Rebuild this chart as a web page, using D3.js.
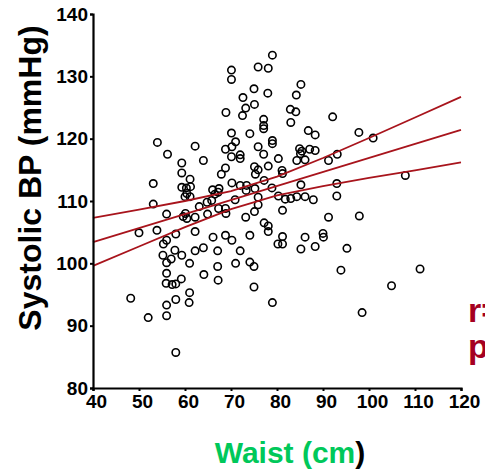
<!DOCTYPE html>
<html>
<head>
<meta charset="utf-8">
<script src="https://cdn.jsdelivr.net/npm/d3@7"></script>
<style>
  html, body { margin: 0; padding: 0; background: #fff; }
  svg text { font-family: "Liberation Sans", Arial, sans-serif; font-weight: bold; }
</style>
</head>
<body>
<svg id="chart" width="485" height="470"></svg>
<script>
// Waist circumference (cm) and systolic blood pressure (mmHg) per subject
const waist = [
  79.0, 75.9, 78.1, 70.1, 70.1, 85.2, 75.0, 78.0, 84.2, 72.6,
  75.1, 73.2, 82.9, 84.1, 68.9, 92.1, 72.5, 77.1, 83.0, 77.1,
  77.1, 86.8, 70.1, 74.1, 88.3, 97.8, 100.9, 79.0, 79.0, 71.0,
  54.0, 62.2, 70.2, 68.8, 75.9, 84.9, 85.4, 85.1, 87.1, 88.3,
  56.2, 77.1, 72.0, 72.0, 70.1, 80.3, 84.3, 86.1, 91.2, 93.1,
  64.0, 59.3, 68.8, 75.1, 75.9, 75.3, 78.1, 67.9, 59.3, 81.1,
  81.2, 77.2, 61.1, 107.9, 53.1, 70.2, 72.0, 73.4, 73.3, 78.9,
  85.2, 93.0, 66.0, 66.5, 67.4, 67.2, 75.2, 59.3, 60.3, 61.2,
  60.4, 60.0, 61.1, 53.1, 75.9, 80.3, 81.8, 83.0, 84.3, 86.1,
  87.9, 93.0, 70.9, 75.9, 63.1, 64.8, 65.8, 64.9, 67.3, 68.8,
  68.9, 60.1, 60.4, 59.6, 62.2, 56.0, 73.2, 75.1, 81.2, 91.2,
  97.9, 77.2, 78.1, 78.1, 50.0, 53.9, 58.0, 56.0, 55.3, 62.2,
  66.1, 68.8, 70.2, 74.1, 81.2, 80.2, 81.2, 86.1, 90.0, 90.1,
  85.2, 88.3, 95.2, 55.2, 57.8, 59.3, 62.2, 64.0, 67.1, 72.0,
  57.0, 56.0, 61.0, 67.1, 71.0, 74.1, 75.0, 56.0, 59.2, 64.1,
  67.2, 55.9, 57.2, 58.0, 75.0, 61.0, 60.9, 48.2, 58.0, 56.0,
  52.0, 56.0, 79.0, 58.0, 93.9, 111.1, 104.9, 98.5
];
const sbp = [
  133.4, 131.5, 131.3, 131.0, 129.5, 128.7, 128.0, 127.3, 127.0, 126.6,
  125.5, 124.9, 124.7, 124.3, 124.2, 123.5, 123.7, 123.1, 122.6, 122.1,
  121.6, 121.3, 120.9, 120.8, 120.6, 121.0, 120.1, 119.7, 119.2, 119.5,
  119.4, 118.8, 118.7, 118.3, 118.7, 118.4, 118.0, 117.6, 118.3, 118.1,
  117.5, 117.5, 117.4, 116.8, 117.1, 116.8, 116.5, 116.6, 116.5, 117.5,
  116.5, 116.1, 115.3, 115.5, 115.0, 114.3, 115.6, 114.3, 114.5, 114.9,
  114.4, 113.3, 113.5, 114.1, 112.8, 112.9, 112.5, 112.5, 111.7, 112.1,
  112.6, 112.8, 111.8, 111.1, 112.0, 111.4, 112.0, 112.2, 112.1, 112.3,
  111.2, 110.7, 110.7, 109.5, 110.6, 110.8, 110.3, 110.4, 110.7, 110.7,
  110.2, 110.8, 110.2, 109.4, 109.1, 109.8, 110.1, 107.9, 108.8, 108.8,
  108.0, 108.0, 107.2, 107.5, 107.4, 107.9, 107.4, 108.3, 108.5, 107.4,
  107.6, 106.5, 106.0, 105.1, 104.9, 105.3, 104.7, 103.7, 103.1, 105.1,
  104.2, 104.5, 103.7, 104.5, 104.3, 103.1, 103.1, 104.2, 104.8, 104.2,
  102.3, 102.7, 102.4, 101.3, 102.1, 101.3, 102.0, 102.5, 102.0, 102.0,
  100.7, 100.1, 100.0, 99.5, 100.0, 100.2, 99.5, 98.4, 97.5, 98.2,
  97.3, 96.8, 96.6, 96.7, 96.2, 95.3, 93.7, 94.4, 94.2, 93.3,
  91.3, 91.6, 93.7, 85.7, 98.9, 99.1, 96.4, 92.1
];

// Fitted regression line and its 95% confidence band
const fitX = [40, 120];
const fitY = [103.4, 121.4];
const bandX = [40, 50, 60, 70, 80, 90, 100, 110, 120];
const bandUpper = [107.3, 108.6, 110.0, 111.6, 113.9, 116.9, 120.1, 123.4, 126.7];
const bandLower = [99.6, 102.7, 105.8, 108.7, 110.9, 112.4, 113.7, 114.9, 116.2];

// Axis ticks
const xTicks = [40, 50, 60, 70, 80, 90, 100, 110, 120];
const yTicks = [80, 90, 100, 110, 120, 130, 140];

const svg = d3.select("#chart");
const x = d3.scaleLinear().domain([40, 120]).range([93, 461]);
const y = d3.scaleLinear().domain([80, 140]).range([388, 14]);

// Scatter points
svg.append("g")
  .selectAll("circle")
  .data(waist.map((w, i) => [w, sbp[i]]))
  .join("circle")
  .attr("cx", d => x(d[0]))
  .attr("cy", d => y(d[1]))
  .attr("r", 3.7)
  .attr("fill", "none")
  .attr("stroke", "#000")
  .attr("stroke-width", 1.6);

// Regression line and confidence band
const red = "#a8141c";
const line = d3.line().x(d => x(d[0])).y(d => y(d[1]));
const fitG = svg.append("g").attr("fill", "none").attr("stroke", red).attr("stroke-width", 1.8);
fitG.append("path").attr("d", line(fitX.map((v, i) => [v, fitY[i]])));
fitG.append("path").attr("d", line(bandX.map((v, i) => [v, bandUpper[i]])));
fitG.append("path").attr("d", line(bandX.map((v, i) => [v, bandLower[i]])));

// Axes
const xAxis = svg.append("g")
  .attr("transform", "translate(0,388)")
  .call(d3.axisBottom(x).tickValues(xTicks).tickSize(3).tickPadding(4));
const yAxis = svg.append("g")
  .attr("transform", "translate(93,0)")
  .call(d3.axisLeft(y).tickValues(yTicks).tickSize(3).tickPadding(2));

[xAxis, yAxis].forEach(g => {
  g.select(".domain").attr("stroke", "#000").attr("stroke-width", 2.2);
  g.selectAll(".tick line").attr("stroke", "#000").attr("stroke-width", 2);
  g.selectAll(".tick text")
    .attr("fill", "#000")
    .style("font-size", "19px")
    .style("font-family", "'Liberation Sans', Arial, sans-serif")
    .style("font-weight", "bold");
});
xAxis.selectAll(".tick text").attr("dx", 3);

// Axis titles
svg.append("text")
  .attr("transform", "translate(41,178) rotate(-90)")
  .attr("text-anchor", "middle")
  .attr("fill", "#000")
  .style("font-size", "32px")
  .text("Systolic BP (mmHg)");

const xTitle = svg.append("text")
  .attr("x", 290)
  .attr("y", 463)
  .attr("text-anchor", "middle")
  .style("font-size", "30px");
xTitle.append("tspan").attr("fill", "#00c85a").text("Waist (cm");
xTitle.append("tspan").attr("fill", "#000").text(")");

// Correlation annotation
svg.append("text")
  .attr("x", 468).attr("y", 322)
  .attr("fill", "#a50021")
  .style("font-size", "34px")
  .text("r=");
svg.append("text")
  .attr("x", 468).attr("y", 358)
  .attr("fill", "#a50021")
  .style("font-size", "34px")
  .text("p");
</script>
</body>
</html>
